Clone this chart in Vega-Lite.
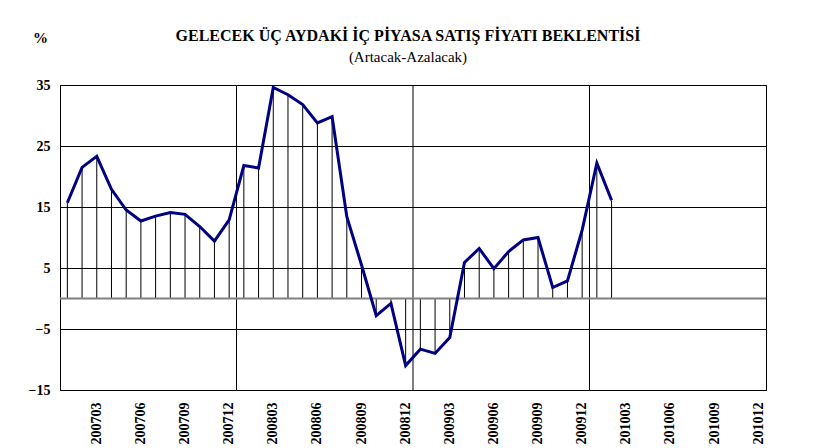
{
  "$schema": "https://vega.github.io/schema/vega-lite/v6.json",
  "width": 706,
  "height": 305,
  "autosize": {"type": "none"},
  "padding": {"left": 60, "top": 85, "right": 54, "bottom": 58},
  "background": "white",
  "config": {
    "view": {"stroke": "#000", "strokeWidth": 1},
    "font": "Liberation Serif"
  },
  "title": {
    "text": "GELECEK ÜÇ AYDAKİ İÇ PİYASA SATIŞ FİYATI BEKLENTİSİ",
    "subtitle": "(Artacak-Azalacak)",
    "font": "Liberation Serif",
    "fontSize": 16,
    "fontWeight": "bold",
    "color": "#000",
    "subtitleFont": "Liberation Serif",
    "subtitleFontSize": 15,
    "subtitleColor": "#000",
    "subtitlePadding": 6,
    "anchor": "middle",
    "dx": -5,
    "dy": 55,
    "offset": 20
  },
  "datasets": {
    "series": [
      {"m": "200701", "v": 15.7}, {"m": "200702", "v": 21.5}, {"m": "200703", "v": 23.3},
      {"m": "200704", "v": 17.9}, {"m": "200705", "v": 14.5}, {"m": "200706", "v": 12.7},
      {"m": "200707", "v": 13.5}, {"m": "200708", "v": 14.1}, {"m": "200709", "v": 13.8},
      {"m": "200710", "v": 11.8}, {"m": "200711", "v": 9.4}, {"m": "200712", "v": 12.9},
      {"m": "200801", "v": 21.8}, {"m": "200802", "v": 21.4}, {"m": "200803", "v": 34.6},
      {"m": "200804", "v": 33.4}, {"m": "200805", "v": 31.8}, {"m": "200806", "v": 28.8},
      {"m": "200807", "v": 29.8}, {"m": "200808", "v": 13.4}, {"m": "200809", "v": 5.5},
      {"m": "200810", "v": -2.8}, {"m": "200811", "v": -0.8}, {"m": "200812", "v": -11.0},
      {"m": "200901", "v": -8.3}, {"m": "200902", "v": -9.0}, {"m": "200903", "v": -6.4},
      {"m": "200904", "v": 5.9}, {"m": "200905", "v": 8.2}, {"m": "200906", "v": 4.9},
      {"m": "200907", "v": 7.7}, {"m": "200908", "v": 9.6}, {"m": "200909", "v": 10.0},
      {"m": "200910", "v": 1.8}, {"m": "200911", "v": 2.9}, {"m": "200912", "v": 11.2},
      {"m": "201001", "v": 22.2}, {"m": "201002", "v": 16.1}
    ],
    "yearstarts": [{"m": "200801"}, {"m": "200901"}, {"m": "201001"}]
  },
  "layer": [
    {
      "data": {"name": "yearstarts"},
      "mark": {"type": "rule", "color": "#000", "strokeWidth": 1},
      "encoding": {
        "x": {
          "field": "m", "type": "ordinal", "bandPosition": 0,
          "scale": {
            "type": "band", "paddingInner": 0, "paddingOuter": 0,
            "domain": ["200701","200702","200703","200704","200705","200706","200707","200708","200709","200710","200711","200712",
                       "200801","200802","200803","200804","200805","200806","200807","200808","200809","200810","200811","200812",
                       "200901","200902","200903","200904","200905","200906","200907","200908","200909","200910","200911","200912",
                       "201001","201002","201003","201004","201005","201006","201007","201008","201009","201010","201011","201012"]
          }
        }
      }
    },
    {
      "data": {"name": "series"},
      "mark": {"type": "rule", "color": "#000", "strokeWidth": 1},
      "encoding": {
        "x": {"field": "m", "type": "ordinal"},
        "y": {"field": "v", "type": "quantitative"},
        "y2": {"datum": 0}
      }
    },
    {
      "data": {"values": [{"v": 0}]},
      "mark": {"type": "rule", "color": "#808080", "strokeWidth": 2},
      "encoding": {
        "y": {"field": "v", "type": "quantitative"}
      }
    },
    {
      "data": {"name": "series"},
      "mark": {"type": "line", "color": "#000080", "strokeWidth": 3, "strokeJoin": "miter"},
      "encoding": {
        "x": {
          "field": "m", "type": "ordinal",
          "axis": {
            "title": null,
            "values": ["200703","200706","200709","200712","200803","200806","200809","200812","200903","200906","200909","200912","201003","201006","201009","201012"],
            "labelAngle": -90, "labelAlign": "right", "labelBaseline": "middle",
            "labelPadding": 12, "ticks": false, "grid": false,
            "domain": true, "domainColor": "#000", "domainWidth": 1,
            "labelFont": "Liberation Serif", "labelFontWeight": "bold", "labelFontSize": 14, "labelColor": "#000"
          }
        },
        "y": {
          "field": "v", "type": "quantitative",
          "scale": {"domain": [-15, 35], "nice": false, "zero": false},
          "axis": {
            "values": [-15, -5, 5, 15, 25, 35],
            "grid": true, "gridColor": "#000", "gridWidth": 1, "gridOpacity": 1,
            "ticks": false, "domain": true, "domainColor": "#000",
            "labelFont": "Liberation Serif", "labelFontWeight": "bold", "labelFontSize": 14, "labelColor": "#000",
            "labelPadding": 10,
            "title": "%", "titleAngle": 0, "titleX": -20, "titleY": -48,
            "titleFont": "Liberation Serif", "titleFontSize": 15, "titleFontWeight": "bold", "titleColor": "#000",
            "titleAlign": "center", "titleBaseline": "middle"
          }
        }
      }
    }
  ]
}
